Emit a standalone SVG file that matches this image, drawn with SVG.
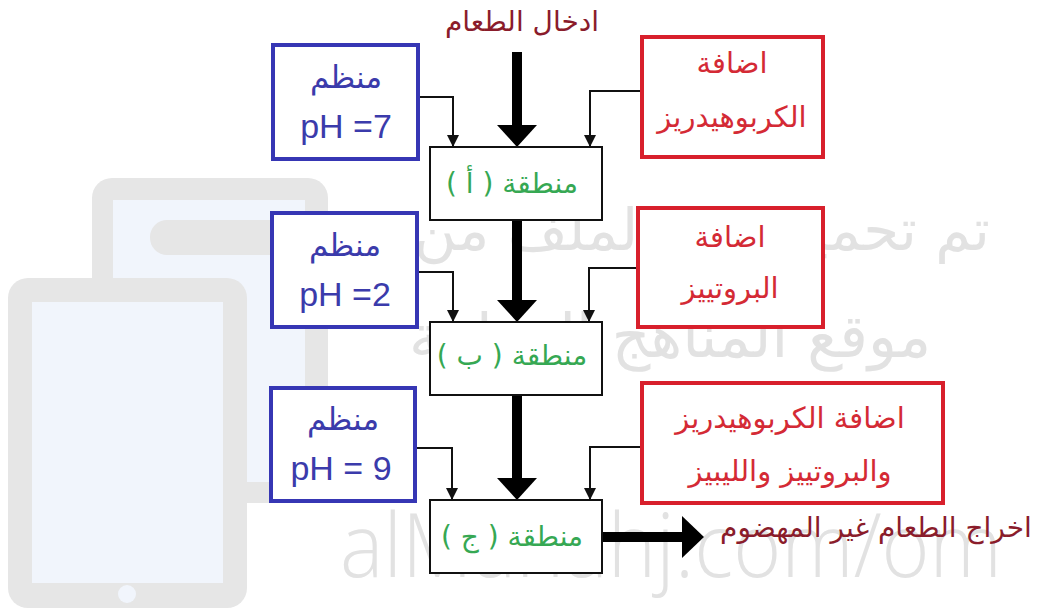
<svg xmlns="http://www.w3.org/2000/svg" width="1044" height="608" viewBox="0 0 1044 608">
<style>
.wm{fill:#e6e6e6}
.scr{fill:#f1f5fc}
.wmt{fill:#e2e2e2;font-family:"DejaVu Sans",sans-serif}
.wml{fill:#e2e2e2;font-family:"Open Sans","Liberation Sans",sans-serif;font-weight:300}
.blue{fill:#ffffff;stroke:#3636b4;stroke-width:4}
.red{fill:#ffffff;stroke:#d8202c;stroke-width:4}
.zone{fill:#ffffff;stroke:#111;stroke-width:2}
.tb{fill:#3b3bab;font-family:"DejaVu Sans",sans-serif;font-size:31px;text-anchor:middle}
.tph{fill:#3b3bab;font-family:"Liberation Sans",sans-serif;font-size:34px;text-anchor:middle}
.tr{fill:#d42a35;font-family:"DejaVu Sans",sans-serif;font-size:29px;text-anchor:middle}
.tg{fill:#36a853;font-family:"DejaVu Sans",sans-serif;font-size:28px;text-anchor:middle}
.td{fill:#8a1c2b;font-family:"DejaVu Sans",sans-serif;font-size:28px;text-anchor:middle}
.thin{fill:none;stroke:#111;stroke-width:2;marker-end:url(#ah)}
.big{fill:#000}
</style>
<defs>
<marker id="ah" viewBox="0 0 12 12" refX="12" refY="6" markerWidth="12" markerHeight="12" markerUnits="userSpaceOnUse" orient="auto">
<path d="M0,0 L12,6 L0,12 z" fill="#111"/>
</marker>
</defs>
<rect width="1044" height="608" fill="#ffffff"/>
<g id="watermark">
<rect class="wm" x="92" y="178" width="236" height="325" rx="20"/>
<rect class="scr" x="113" y="200" width="192" height="282"/>
<rect class="wm" x="150" y="220" width="150" height="35" rx="17"/>
<rect class="wm" x="8" y="278" width="239" height="330" rx="20"/>
<rect class="scr" x="32" y="302" width="191" height="281"/>
<circle cx="127" cy="594" r="9" fill="#f1f5fc"/>
<text class="wmt" x="702" y="250" font-size="58" text-anchor="middle" direction="rtl">تم تحميل هذا الملف من</text>
<text class="wmt" x="670" y="357" font-size="60" text-anchor="middle" direction="rtl">موقع المناهج العمانية</text>
<text class="wml" x="340" y="577" font-size="88" textLength="662" lengthAdjust="spacingAndGlyphs">alManahj.com/om</text>
</g>
<g id="connectors">
<path class="thin" d="M418,97 H453 V147"/>
<path class="thin" d="M642,91 H590 V147"/>
<path class="thin" d="M417,272 H453 V322"/>
<path class="thin" d="M638,268 H589 V322"/>
<path class="thin" d="M415,448 H452 V500"/>
<path class="thin" d="M642,447 H590 V500"/>
<rect class="big" x="512" y="52" width="10" height="75"/>
<polygon class="big" points="497,125 537,125 517,147"/>
<rect class="big" x="512" y="220" width="10" height="82"/>
<polygon class="big" points="497,300 537,300 517,322"/>
<rect class="big" x="512" y="395" width="10" height="85"/>
<polygon class="big" points="497,478 537,478 517,500"/>
<rect class="big" x="602" y="532" width="82" height="10"/>
<polygon class="big" points="682,516 704,537 682,558"/>
</g>
<g id="title">
<text class="td" x="522" y="31" direction="rtl">ادخال الطعام</text>
</g>
<g id="ph7">
<rect class="blue" x="273" y="45" width="145" height="114"/>
<text class="tb" x="346" y="88" direction="rtl">منظم</text>
<text class="tph" x="346" y="138">pH =7</text>
</g>
<g id="carb">
<rect class="red" x="642" y="37" width="181" height="120"/>
<text class="tr" x="732" y="73" direction="rtl">اضافة</text>
<text class="tr" x="732" y="127" direction="rtl">الكربوهيدريز</text>
</g>
<g id="zoneA">
<rect class="zone" x="430" y="147" width="172" height="73"/>
<text class="tg" x="512" y="193" direction="rtl">منطقة ( أ )</text>
</g>
<g id="ph2">
<rect class="blue" x="272" y="213" width="145" height="114"/>
<text class="tb" x="345" y="256" direction="rtl">منظم</text>
<text class="tph" x="345" y="306">pH =2</text>
</g>
<g id="prot">
<rect class="red" x="638" y="208" width="185" height="119"/>
<text class="tr" x="730" y="247" direction="rtl">اضافة</text>
<text class="tr" x="730" y="298" direction="rtl">البروتييز</text>
</g>
<g id="zoneB">
<rect class="zone" x="430" y="322" width="172" height="73"/>
<text class="tg" x="512" y="365" direction="rtl">منطقة ( ب )</text>
</g>
<g id="ph9">
<rect class="blue" x="271" y="388" width="144" height="113"/>
<text class="tb" x="343" y="430" direction="rtl">منظم</text>
<text class="tph" x="341" y="480">pH = 9</text>
</g>
<g id="all">
<rect class="red" x="642" y="383" width="301" height="120"/>
<text class="tr" x="790" y="428" direction="rtl">اضافة الكربوهيدريز</text>
<text class="tr" x="790" y="481" direction="rtl">والبروتييز والليبيز</text>
</g>
<g id="zoneC">
<rect class="zone" x="430" y="500" width="172" height="73"/>
<text class="tg" x="512" y="546" direction="rtl">منطقة ( ج )</text>
</g>
<g id="output">
<text class="td" x="876" y="537" font-size="29px" direction="rtl">اخراج الطعام غير المهضوم</text>
</g>
</svg>
